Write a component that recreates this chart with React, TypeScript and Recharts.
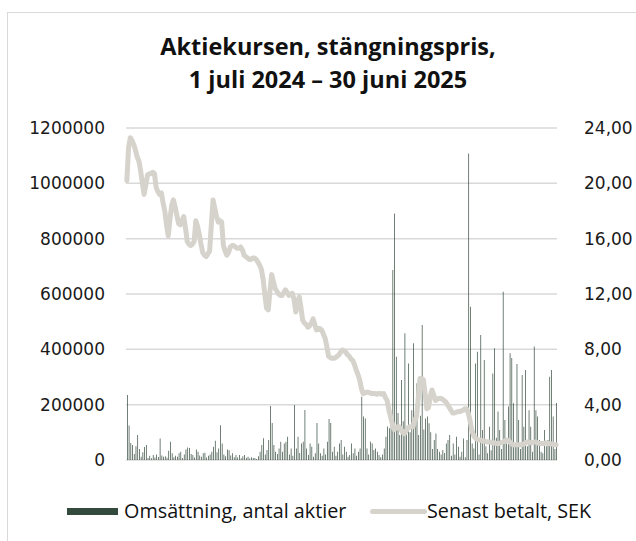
import { ComposedChart, Bar, Line, XAxis, YAxis, CartesianGrid } from "recharts";

// Stängningskurs per handelsdag, SEK (avläst)
const price = [
  20.2, 22.6, 23.3, 23.1, 22.8, 22.4, 21.9, 21.6, 20.9, 20.0,
  19.2, 19.9, 20.6, 20.7, 20.7, 20.8, 20.7, 19.7, 19.4, 19.2,
  19.3, 18.6, 18.0, 17.0, 16.2, 17.4, 18.4, 18.8, 18.3, 17.7,
  17.1, 17.0, 17.3, 17.6, 16.8, 15.8, 15.6, 15.5, 15.6, 15.8,
  17.3, 16.9, 16.3, 15.6, 15.0, 14.8, 14.7, 14.9, 15.1, 17.0,
  18.8, 18.2, 17.6, 17.2, 17.3, 17.2, 15.5, 15.1, 14.8, 15.0,
  15.4, 15.5, 15.5, 15.4, 15.3, 15.3, 15.4, 15.2, 14.8, 14.7,
  14.6, 14.5, 14.5, 14.6, 14.6, 14.5, 14.3, 14.1, 13.8, 13.1,
  12.0, 11.0, 10.85, 12.2, 13.4, 12.9, 12.4, 12.2, 12.0, 11.9,
  11.9, 12.1, 12.3, 12.1, 11.9, 12.0, 12.05, 11.6, 10.7, 11.2,
  11.8, 11.0, 10.1, 9.9, 9.8, 9.6, 9.7, 9.9, 10.2, 9.8,
  9.4, 9.5, 9.5, 9.4, 9.1, 8.8, 8.2, 7.5, 7.4, 7.35,
  7.35, 7.4, 7.5, 7.6, 7.8, 7.95, 7.9, 7.8, 7.6, 7.5,
  7.3, 7.2, 6.9, 6.5, 6.2, 5.8, 5.2, 4.8, 4.85, 4.9,
  4.9, 4.85, 4.8, 4.8, 4.8, 4.75, 4.8, 4.8, 4.75, 4.8,
  4.5, 4.3, 3.6, 3.1, 2.6, 2.2, 2.3, 2.4, 2.4, 2.2,
  2.0, 1.9, 2.1, 2.3, 2.4, 2.4, 2.4, 2.9, 3.1, 4.4,
  5.9, 5.9, 5.8, 4.8, 3.7, 3.8, 4.6, 5.06, 4.7, 4.3,
  4.4, 4.45, 4.45, 4.4, 4.3, 4.2, 4.0, 3.8, 3.6, 3.4,
  3.4, 3.45, 3.5, 3.5, 3.55, 3.6, 3.7, 3.7, 3.4, 2.9,
  2.2, 1.8, 1.6, 1.5, 1.45, 1.45, 1.4, 1.35, 1.35, 1.3,
  1.3, 1.3, 1.25, 1.25, 1.2, 1.2, 1.2, 1.25, 1.3, 1.35,
  1.45, 1.45, 1.3, 1.2, 1.1, 1.1, 1.1, 1.1, 1.1, 1.1,
  1.15, 1.2, 1.3, 1.3, 1.25, 1.25, 1.3, 1.3, 1.25, 1.2,
  1.2, 1.2, 1.2, 1.25, 1.2, 1.2, 1.15, 1.15, 1.1, 1.1,
];

// Omsättning, antal aktier per handelsdag (avläst)
const volume = [
  235000, 125000, 61000, 54000, 22000, 50000, 90000, 40000, 12000, 28000,
  47000, 54000, 7000, 15000, 6000, 18000, 9000, 20000, 11000, 78000,
  16000, 12000, 14000, 8000, 33000, 66000, 24000, 10000, 15000, 12000,
  24000, 30000, 7000, 20000, 38000, 45000, 43000, 22000, 18000, 9000,
  38000, 30000, 16000, 12000, 24000, 26000, 9000, 15000, 20000, 30000,
  48000, 70000, 28000, 42000, 126000, 60000, 20000, 14000, 38000, 35000,
  16000, 24000, 10000, 18000, 9000, 18000, 6000, 14000, 18000, 8000,
  12000, 5000, 10000, 7000, 7000, 4000, 14000, 30000, 54000, 79000,
  20000, 36000, 72000, 195000, 134000, 54000, 30000, 22000, 42000, 66000,
  30000, 60000, 66000, 84000, 20000, 42000, 15000, 199000, 42000, 84000,
  25000, 60000, 66000, 181000, 42000, 18000, 60000, 48000, 12000, 24000,
  134000, 60000, 24000, 15000, 42000, 20000, 66000, 148000, 134000, 30000,
  48000, 15000, 30000, 60000, 72000, 20000, 48000, 30000, 12000, 18000,
  60000, 24000, 42000, 15000, 30000, 42000, 229000, 157000, 150000, 42000,
  20000, 66000, 60000, 36000, 42000, 30000, 18000, 10000, 20000, 42000,
  84000, 121000, 115000, 160000, 687000, 891000, 373000, 170000, 90000, 289000,
  140000, 458000, 120000, 349000, 100000, 180000, 422000, 130000, 277000, 90000,
  160000, 488000, 110000, 150000, 157000, 133000, 100000, 40000, 72000, 96000,
  40000, 30000, 20000, 36000, 25000, 60000, 72000, 90000, 15000, 60000,
  20000, 84000, 48000, 12000, 30000, 78000, 10000, 72000, 1108000, 554000,
  60000, 42000, 349000, 391000, 20000, 452000, 108000, 361000, 50000, 24000,
  120000, 35000, 313000, 404000, 80000, 175000, 108000, 40000, 608000, 145000,
  60000, 193000, 386000, 369000, 205000, 60000, 347000, 145000, 40000, 307000,
  120000, 325000, 50000, 180000, 120000, 30000, 410000, 180000, 157000, 72000,
  30000, 24000, 108000, 50000, 72000, 301000, 325000, 157000, 40000, 206000,
];

const leftTicks = [0, 200000, 400000, 600000, 800000, 1000000, 1200000];
const rightTicks = [0, 4, 8, 12, 16, 20, 24];

const data = price.map((p, i) => ({ day: i + 1, price: p, volume: volume[i] }));

const tickStyle = { fontFamily: "DejaVu Sans", fontSize: 17, fill: "#1a1a1a" };

export default function App() {
  return (
    <div style={{ position: "relative", width: 636, height: 541, overflow: "hidden", background: "#fff" }}>
      <style>{"body{margin:0;overflow:hidden}"}</style>
      <div
        style={{
          position: "absolute",
          left: 7,
          top: 12,
          width: 700,
          height: 600,
          borderTop: "1px solid #d9d9d9",
          borderLeft: "1px solid #d9d9d9",
        }}
      />
      <div
        style={{
          position: "absolute",
          left: 20,
          width: 616,
          top: 30,
          textAlign: "center",
          fontFamily: "Open Sans",
          fontWeight: 700,
          fontSize: 23.5,
          lineHeight: "33px",
          color: "#111",
        }}
      >
        Aktiekursen, stängningspris,
        <br />1 juli 2024 – 30 juni 2025
      </div>
      <div style={{ position: "absolute", left: 8, top: 13 }}>
        <ComposedChart width={628} height={528} data={data} margin={{ top: 115, right: 0, bottom: 81, left: 0 }}>
          <CartesianGrid yAxisId="left" vertical={false} stroke="#d9d9d9" strokeWidth={1.5} />
          <XAxis dataKey="day" hide />
          <YAxis
            yAxisId="left"
            orientation="left"
            width={118}
            domain={[0, 1200000]}
            ticks={leftTicks}
            tick={tickStyle}
            tickLine={false}
            axisLine={false}
            tickSize={0}
            tickMargin={21}
            interval={0}
          />
          <YAxis
            yAxisId="right"
            orientation="right"
            width={79}
            domain={[0, 24]}
            ticks={rightTicks}
            tickFormatter={(v: number) => v.toFixed(2).replace(".", ",")}
            tick={tickStyle}
            tickLine={false}
            axisLine={false}
            tickSize={0}
            tickMargin={27}
            interval={0}
          />
          <Bar yAxisId="left" dataKey="volume" fill="#344a3d" barSize={0.7} isAnimationActive={false} />
          <Line
            yAxisId="right"
            dataKey="price"
            type="linear"
            stroke="#d6d3cc"
            strokeWidth={5}
            strokeLinejoin="round"
            strokeLinecap="round"
            dot={false}
            activeDot={false}
            isAnimationActive={false}
          />
        </ComposedChart>
      </div>
      <div
        style={{
          position: "absolute",
          top: 499,
          left: 0,
          width: 636,
          height: 24,
          fontFamily: "Open Sans",
          fontSize: 19.8,
          color: "#111",
        }}
      >
        <div style={{ position: "absolute", left: 67, top: 9, width: 51, height: 7, background: "#344a3d" }} />
        <div style={{ position: "absolute", left: 124, top: 0, lineHeight: "24px", whiteSpace: "nowrap" }}>
          Omsättning, antal aktier
        </div>
        <div
          style={{ position: "absolute", left: 370, top: 10, width: 57, height: 5, borderRadius: 3, background: "#d6d3cc" }}
        />
        <div style={{ position: "absolute", left: 427, top: 0, lineHeight: "24px", whiteSpace: "nowrap" }}>
          Senast betalt, SEK
        </div>
      </div>
    </div>
  );
}
